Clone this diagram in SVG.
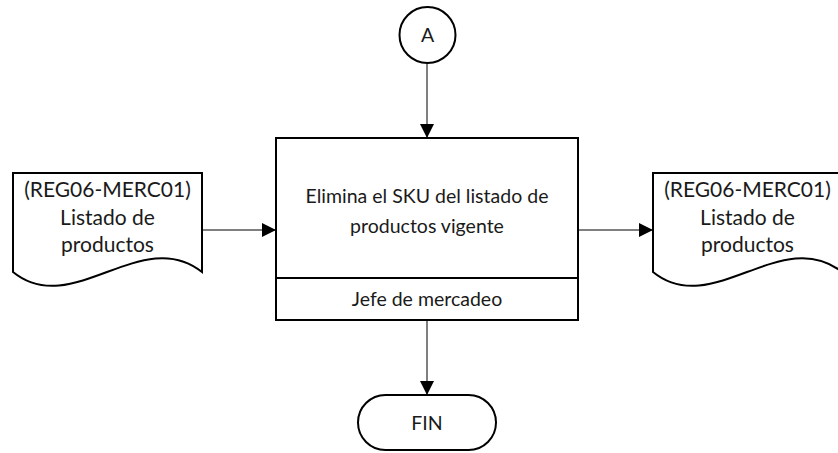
<svg xmlns="http://www.w3.org/2000/svg" width="838" height="453" viewBox="0 0 838 453">
<style>
.shape{fill:#fff;stroke:#000;stroke-width:2}
.conn{fill:none;stroke:#000;stroke-width:1}
.t{font-family:Lato,"Liberation Sans",sans-serif;fill:#1a1a1a;text-anchor:middle}
.big{font-size:21px}
.mid{font-size:19.5px}
</style>
<defs>
<marker id="arr" markerUnits="userSpaceOnUse" markerWidth="16" markerHeight="16" refX="14" refY="7" orient="auto">
<path d="M0,0 L14,7 L0,14 Z" fill="#000"/>
</marker>
</defs>
<rect width="838" height="453" fill="#fff"/>
<g id="connectors">
<line class="conn" x1="427" y1="64" x2="427" y2="138" marker-end="url(#arr)"/>
<line class="conn" x1="202" y1="230" x2="276" y2="230" marker-end="url(#arr)"/>
<line class="conn" x1="578" y1="230" x2="653" y2="230" marker-end="url(#arr)"/>
<line class="conn" x1="427" y1="320" x2="427" y2="395" marker-end="url(#arr)"/>
</g>
<g id="connector-A">
<circle class="shape" cx="427.5" cy="35" r="28" stroke-width="1.6"/>
<text class="t mid" x="427.5" y="42">A</text>
</g>
<g id="process">
<rect class="shape" x="276" y="138" width="302" height="182"/>
<line x1="276" y1="278" x2="578" y2="278" stroke="#000" stroke-width="2"/>
<text class="t mid" x="427" y="203">Elimina el SKU del listado de</text>
<text class="t mid" x="427" y="233">productos vigente</text>
<text class="t mid" x="427" y="306">Jefe de mercadeo</text>
</g>
<g id="doc-in">
<path class="shape" d="M13,173 H202 V272 C142,224 72,320 13,272 Z"/>
<text class="t big" x="107.5" y="197">(REG06-MERC01)</text>
<text class="t big" x="107.5" y="225">Listado de</text>
<text class="t big" x="107.5" y="252">productos</text>
</g>
<g id="doc-out">
<path class="shape" d="M653,173 H842 V272 C782,224 712,320 653,272 Z"/>
<text class="t big" x="747.5" y="197">(REG06-MERC01)</text>
<text class="t big" x="747.5" y="225">Listado de</text>
<text class="t big" x="747.5" y="252">productos</text>
</g>
<g id="fin">
<rect class="shape" x="358" y="395" width="138" height="55" rx="27.5" stroke-width="1.6"/>
<text class="t mid" x="427" y="430">FIN</text>
</g>
</svg>
